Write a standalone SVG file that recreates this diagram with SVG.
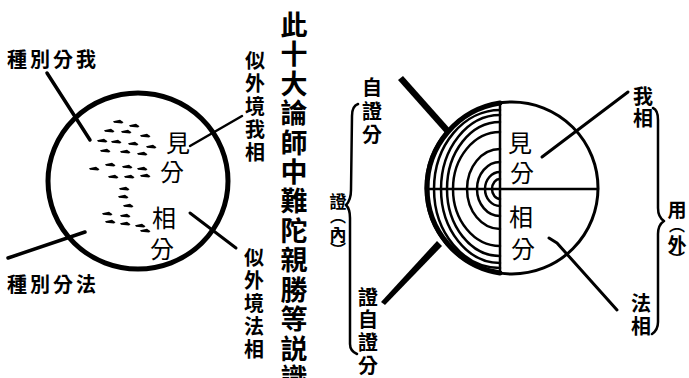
<svg xmlns="http://www.w3.org/2000/svg" xmlns:xlink="http://www.w3.org/1999/xlink" width="689" height="378" viewBox="0 0 689 378">
<style>
text{font-family:"Noto Sans CJK TC","Noto Sans CJK JP",sans-serif;fill:#000;text-anchor:middle}
.lab{font-size:20px;font-weight:700}
.vl{font-size:20px;font-weight:700}
.title{font-size:27px;font-weight:700}
.in{font-size:24px}
.sm{font-size:17px;font-weight:700}
.ys{font-size:19px;font-weight:700}
.br{font-size:16px;font-weight:700}
.ln{stroke:#000;fill:none;stroke-linecap:round;stroke-linejoin:round}
</style>
<defs>
<path id="d" d="M0,0.3 L7,-1.2 L10.5,1.2 L9,2.4 L1,1.8 Z" fill="#000"/>
</defs>
<rect width="689" height="378" fill="#fff"/>

<g id="title">
<text class="title"><tspan x="294" y="35">此</tspan><tspan x="294" y="64">十</tspan><tspan x="294" y="94">大</tspan><tspan x="294" y="123">論</tspan><tspan x="294" y="153">師</tspan><tspan x="294" y="182">中</tspan><tspan x="294" y="211">難</tspan><tspan x="294" y="241">陀</tspan><tspan x="294" y="270">親</tspan><tspan x="294" y="300">勝</tspan><tspan x="294" y="329">等</tspan><tspan x="294" y="359">説</tspan><tspan x="294" y="388">識</tspan></text>
</g>

<!-- Left diagram -->
<g id="left-circle">
<ellipse cx="138" cy="181" rx="90" ry="88" fill="none" stroke="#000" stroke-width="5"/>
<g id="seeds">
<use xlink:href="#d" x="113" y="121"/><use xlink:href="#d" x="129" y="125"/>
<use xlink:href="#d" x="104" y="130"/><use xlink:href="#d" x="121" y="131"/><use xlink:href="#d" x="140" y="135"/>
<use xlink:href="#d" x="97" y="140"/><use xlink:href="#d" x="111" y="141"/><use xlink:href="#d" x="128" y="143"/><use xlink:href="#d" x="146" y="146"/>
<use xlink:href="#d" x="100" y="150"/><use xlink:href="#d" x="120" y="151"/><use xlink:href="#d" x="137" y="153"/>
<use xlink:href="#d" x="89" y="168"/><use xlink:href="#d" x="105" y="164"/><use xlink:href="#d" x="122" y="166"/><use xlink:href="#d" x="137" y="168"/>
<use xlink:href="#d" x="108" y="176"/><use xlink:href="#d" x="124" y="176"/><use xlink:href="#d" x="140" y="175"/>
<use xlink:href="#d" x="119" y="188"/><use xlink:href="#d" x="118" y="196"/><use xlink:href="#d" x="123" y="205"/>
<use xlink:href="#d" x="102" y="213"/><use xlink:href="#d" x="120" y="215"/>
<use xlink:href="#d" x="105" y="221"/><use xlink:href="#d" x="120" y="223"/><use xlink:href="#d" x="135" y="225"/>
<use xlink:href="#d" x="140" y="230"/>
</g>
<text class="in"><tspan x="178" y="152">見</tspan><tspan x="172" y="181">分</tspan></text>
<text class="in"><tspan x="164" y="227">相</tspan><tspan x="162" y="258">分</tspan></text>
</g>

<g id="label-zhongbie-wo"><text class="lab" x="53" y="67" letter-spacing="3">種別分我</text></g>
<g id="label-zhongbie-fa"><text class="lab" x="53" y="292" letter-spacing="3">種別分法</text></g>
<g id="label-siwai-wo"><text class="vl"><tspan x="255" y="68">似</tspan><tspan x="255" y="91">外</tspan><tspan x="255" y="114">境</tspan><tspan x="255" y="137">我</tspan><tspan x="255" y="160">相</tspan></text></g>
<g id="label-siwai-fa"><text class="vl"><tspan x="254" y="265">似</tspan><tspan x="254" y="288">外</tspan><tspan x="254" y="311">境</tspan><tspan x="254" y="334">法</tspan><tspan x="254" y="357">相</tspan></text></g>

<!-- Right diagram -->
<g id="right-circle">
<circle cx="512" cy="188" r="86" fill="none" stroke="#000" stroke-width="3"/>
<path class="ln" stroke-width="5" d="M500,103 A86,86 0 0 0 500,273"/>
<line class="ln" stroke-width="2.5" x1="500" y1="103" x2="500" y2="273"/>
<line class="ln" stroke-width="2.5" x1="426" y1="189" x2="598" y2="189"/>
<g class="ln" stroke-width="2.5">
<path d="M500,110 A66,79 0 0 0 500,268"/>
<path d="M500,115 A59,74 0 0 0 500,263"/>
<path d="M500,122 A53,67 0 0 0 500,256"/>
<path d="M500,132 A47,57 0 0 0 500,246"/>
<path d="M500,149 A33,40 0 0 0 500,229"/>
<path d="M500,162 A23,27 0 0 0 500,216"/>
<path d="M500,172 A15,17 0 0 0 500,206"/>
<path d="M500,179 A8,10 0 0 0 500,199"/>
</g>
<text class="in"><tspan x="520" y="152">見</tspan><tspan x="522" y="182">分</tspan></text>
<text class="in"><tspan x="521" y="226">相</tspan><tspan x="523" y="258">分</tspan></text>
</g>

<g id="label-zizhengfen"><text class="vl"><tspan x="372" y="95">自</tspan><tspan x="372" y="119">證</tspan><tspan x="372" y="142">分</tspan></text></g>
<g id="label-zhengzizhengfen"><text class="vl"><tspan x="368" y="305">證</tspan><tspan x="368" y="327">自</tspan><tspan x="368" y="350">證</tspan><tspan x="368" y="373">分</tspan></text></g>
<g id="label-zheng-nei"><text class="sm"><tspan x="338" y="208">證</tspan></text><text class="br"><tspan x="338" y="222">︵</tspan></text><text class="sm"><tspan x="338" y="241">內</tspan></text><text class="br"><tspan x="338" y="256">︶</tspan></text></g>
<g id="label-wo"><text class="vl"><tspan x="643" y="104">我</tspan><tspan x="643" y="126">相</tspan></text></g>
<g id="label-fa"><text class="vl"><tspan x="641" y="311">法</tspan><tspan x="641" y="334">相</tspan></text></g>
<g id="label-yong-wai"><text class="ys"><tspan x="677" y="217">用</tspan></text><text class="br"><tspan x="677" y="231">︵</tspan></text><text class="ys"><tspan x="677" y="252">外</tspan></text><text class="br"><tspan x="677" y="265">︶</tspan></text></g>

<g id="connectors">
<line class="ln" stroke-width="3.5" x1="47" y1="73" x2="90" y2="140"/>
<line class="ln" stroke-width="3.5" x1="8" y1="258" x2="85" y2="232"/>
<line class="ln" stroke-width="2.5" x1="190" y1="146" x2="242" y2="116"/>
<line class="ln" stroke-width="3" x1="190" y1="213" x2="236" y2="248"/>
<path fill="#000" d="M398,80 L403,76 L451,130 L446,134 Z"/>
<path fill="#000" d="M381,302 L385,305 L442,246 L437,241 Z"/>
<line class="ln" stroke-width="3" x1="542" y1="157" x2="628" y2="92"/>
<path class="ln" stroke-width="3" d="M549,238 L557,243 L617,310"/>
<path class="ln" stroke-width="2.5" d="M358,104 Q352,106 352,116 L351,190 Q351,200 346,205 Q350,209 350,218 L350,344 Q350,351 357,354"/>
<path class="ln" stroke-width="2.5" d="M653,108 Q658,110 658,120 L658,208 Q658,217 664,221 Q658,225 658,234 L658,322 Q658,330 652,334"/>
</g>
</svg>
